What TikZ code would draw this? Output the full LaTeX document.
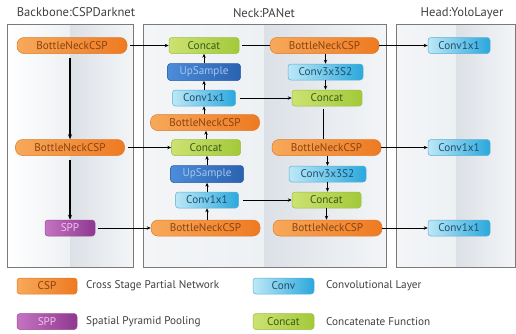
\documentclass[tikz,border=0pt]{standalone}
\usepackage{fontspec}
\setmainfont{PT Sans}
\usetikzlibrary{arrows.meta}
\definecolor{cspL}{HTML}{F7A95A}
\definecolor{cspR}{HTML}{EE7A22}
\definecolor{cspD}{HTML}{E07A2A}
\definecolor{cspT}{HTML}{8A4210}
\definecolor{catL}{HTML}{CDE272}
\definecolor{catR}{HTML}{A2C93A}
\definecolor{catD}{HTML}{9CBF40}
\definecolor{catT}{HTML}{3A5A18}
\definecolor{upL}{HTML}{4C8CD8}
\definecolor{upR}{HTML}{2A62B0}
\definecolor{upD}{HTML}{2A5EA8}
\definecolor{upT}{HTML}{A6C6EE}
\definecolor{cvL}{HTML}{BDE8F6}
\definecolor{cvR}{HTML}{2AA8DC}
\definecolor{cvD}{HTML}{5AB0D8}
\definecolor{cvT}{HTML}{1E4E70}
\definecolor{spL}{HTML}{C474C2}
\definecolor{spR}{HTML}{8E3890}
\definecolor{spD}{HTML}{9A4A9A}
\definecolor{spT}{HTML}{F2C0EE}
\definecolor{panA}{HTML}{EEF1F4}
\definecolor{panB}{HTML}{DCE1E7}
\definecolor{panC}{HTML}{F3F5F7}
\definecolor{txt}{HTML}{404040}
\definecolor{frame}{HTML}{7A7A7A}
\tikzset{
  blk/.style={draw, line width=0.5pt, minimum height=16pt, inner sep=0pt, font=\fontsize{11.2}{12}\selectfont},
  csp/.style={blk, left color=cspL, right color=cspR, draw=cspD, text=cspT, rounded corners=7pt},
  cat/.style={blk, left color=catL, right color=catR, draw=catD, text=catT, rounded corners=3pt},
  ups/.style={blk, left color=upL, right color=upR, draw=upD, text=upT, rounded corners=3pt, minimum height=17pt},
  conv/.style={blk, left color=cvL, right color=cvR, draw=cvD, text=cvT, rounded corners=3pt},
  spp/.style={blk, left color=spL, right color=spR, draw=spD, text=spT, rounded corners=3pt},
  arr/.style={-{Stealth[length=4pt,width=3.4pt]}, line width=0.7pt, black},
  thk/.style={-{Stealth[length=5pt,width=4pt]}, line width=1.3pt, black},
  ln/.style={line width=0.7pt, black},
  ttl/.style={font=\fontsize{12.6}{14}\selectfont, text=txt},
  lgt/.style={font=\fontsize{11.2}{13}\selectfont, text=txt, anchor=west, inner sep=0pt},
  pframe/.style={draw=frame, line width=0.7pt}
}
\begin{document}
\begin{tikzpicture}[x=1pt,y=-1pt]
\useasboundingbox (0,0) rectangle (516,333);
% panels
\shade[left color=white, right color=panA] (7,24) rectangle (70,267);
\shade[left color=panB, right color=panC] (70,24) rectangle (133,267);
\draw[pframe] (7,24) rectangle (133,267);
\shade[left color=panC, right color=panA] (143,24) rectangle (264,267);
\shade[left color=panB, right color=panC] (264,24) rectangle (386,267);
\draw[pframe] (143,24) rectangle (386,267);
\shade[left color=panC, right color=panA] (396,24) rectangle (456,267);
\shade[left color=panB, right color=panC] (456,24) rectangle (515.5,267);
\draw[pframe] (396,24) rectangle (515.5,267);
% titles
\node[ttl] (t1) at (76,12) {Backbone:CSPDarknet};
\node[ttl] (t2) at (264,13) {Neck:PANet};
\node[ttl] (t3) at (462,13) {Head:YoloLayer};
% backbone
\node[csp, minimum width=110pt] (b1) at (72,45.5) {BottleNeckCSP};
\node[csp, minimum width=109pt] (b2) at (70,147.5) {BottleNeckCSP};
\node[spp, minimum width=50pt] (sp) at (70,228) {SPP};
% neck left
\node[cat, minimum width=70pt] (nc1) at (204,45.5) {Concat};
\node[ups, minimum width=73pt] (up1) at (204,72) {UpSample};
\node[conv, minimum width=63pt] (cv1) at (204,98) {Conv1x1};
\node[csp, minimum width=109pt] (nb1) at (205,122.5) {BottleNeckCSP};
\node[cat, minimum width=69pt] (nc2) at (206,147.5) {Concat};
\node[ups, minimum width=73pt] (up2) at (207,174) {UpSample};
\node[conv, minimum width=63pt] (cv2) at (207,200) {Conv1x1};
\node[csp, minimum width=109pt] (nb2) at (205.5,228) {BottleNeckCSP};
% neck right
\node[csp, minimum width=109pt] (rb1) at (324.5,45.5) {BottleNeckCSP};
\node[conv, minimum width=75pt] (r3a) at (325.5,72) {Conv3x3S2};
\node[cat, minimum width=70pt] (rc1) at (327,98) {Concat};
\node[csp, minimum width=109pt] (rb2) at (326.5,147.5) {BottleNeckCSP};
\node[conv, minimum width=77pt] (r3b) at (327.5,174) {Conv3x3S2};
\node[cat, minimum width=69pt] (rc2) at (326.5,200) {Concat};
\node[csp, minimum width=109pt] (rb3) at (327.5,228) {BottleNeckCSP};
% head
\node[conv, minimum width=62pt] (h1) at (459,45.5) {Conv1x1};
\node[conv, minimum width=62pt] (h2) at (459,147.5) {Conv1x1};
\node[conv, minimum width=62pt] (h3) at (459,228) {Conv1x1};
% backbone connectors
\draw[thk] (b2.north |- b1.south) ++(0,4) -- (b2.north);
\draw[thk] (b2.south) ++(0,4) -- (sp.north);
\draw[arr] (b1.east) ++(3,0) -- (nc1.west);
\draw[arr] (b2.east) ++(3,0) -- (nc2.west);
\draw[arr] (sp.east) ++(3,0) -- (nb2.west);
% neck left upward
\draw[arr] (cv1.north) -- (up1.south);
\draw[arr] (up1.north) -- (nc1.south);
\draw[arr] (nb1.north -| cv1) -- (cv1.south);
\draw[arr] (nc2.north) -- (nb1.south -| nc2);
\draw[arr] (up2.north) -- (nc2.south -| up2);
\draw[arr] (cv2.north) -- (up2.south);
\draw[arr] (nb2.north -| cv2) -- (cv2.south);
% cross
\draw[ln] (nc1.east) ++(3,0) -- (rb1.west);
\draw[arr] (cv1.east) ++(4,0) -- (rc1.west);
\draw[arr] (cv2.east) ++(4,0) -- (rc2.west);
% neck right downward
\draw[arr] (rb1.south -| r3a) -- (r3a.north);
\draw[arr] (r3a.south) -- (rc1.north -| r3a);
\draw[ln] (rc1.south -| 323,0) ++(0,3) -- (rb2.north -| 323,0);
\draw[arr] (rb2.south -| r3b) -- (r3b.north);
\draw[arr] (r3b.south) -- (rc2.north -| r3b);
\draw[arr] (rc2.south) -- (rb3.north -| rc2);
% to head
\draw[arr] (rb1.east) -- (h1.west);
\draw[arr] (rb2.east) -- (h2.west);
\draw[arr] (rb3.east) -- (h3.west);
% legend
\node[csp, rounded corners=3pt, minimum width=60pt] (lg1) at (47,286) {CSP};
\node[spp, minimum width=60pt] (lg2) at (47,321.5) {SPP};
\node[conv, minimum width=61pt] (lg3) at (283.5,286) {Conv};
\node[cat, minimum width=61pt] (lg4) at (283.5,321.5) {Concat};
\node[lgt] (lt1) at (86,286) {Cross Stage Partial Network};
\node[lgt] (lt2) at (86,321.5) {Spatial Pyramid Pooling};
\node[lgt] (lt3) at (326,286) {Convolutional Layer};
\node[lgt] (lt4) at (326,321.5) {Concatenate Function};
\end{tikzpicture}
\end{document}
